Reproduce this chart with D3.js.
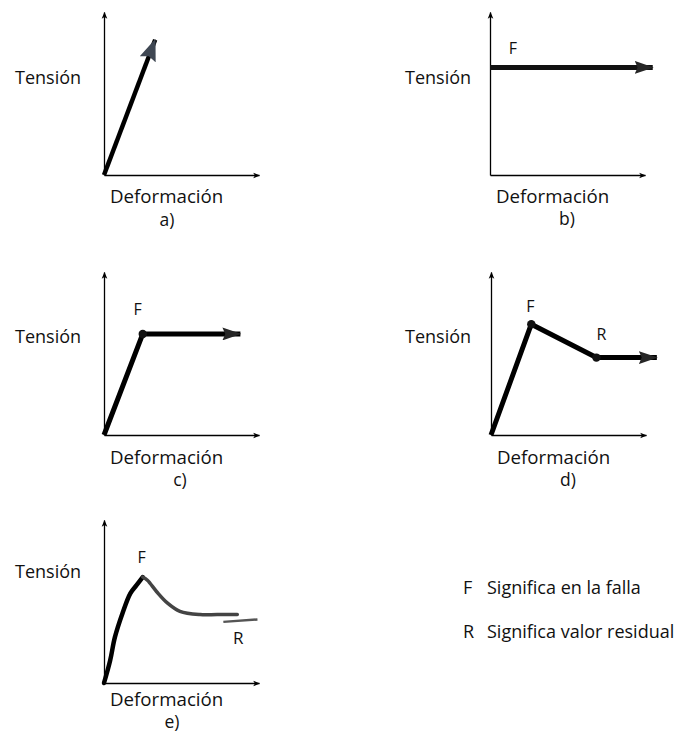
<!DOCTYPE html>
<html>
<head>
<meta charset="utf-8">
<script src="https://cdn.jsdelivr.net/npm/d3@7"></script>
<style>
  html, body { margin: 0; padding: 0; background: #fff; }
  #chart-container { width: 689px; height: 735px; }
</style>
</head>
<body>
<div id="chart-container"></div>
<script>
// Curvas esquemáticas tensión–deformación (unidades relativas 0–100)
const curveA = [[0, 0], [33, 83]];
const curveB = [[0, 66], [105, 66]];
const curveC = [[0, 0], [25, 62], [88, 62]];
const curveD = [[0, 0], [26, 68], [68, 47.5], [107, 47.5]];
const curveE = [[0, 0], [4, 14], [7, 28], [12, 43], [17, 55], [21, 60], [25, 65],
                [28, 63], [34, 56], [41, 49], [49, 44], [62, 42], [73, 42], [86, 42]];
const residualE = [[77, 37.5], [99, 39]];

// Puntos marcados (F = falla, R = residual)
const pointsC = [{ label: "F", x: 25, y: 62 }];
const pointsD = [{ label: "F", x: 26, y: 68 }, { label: "R", x: 68, y: 47.5 }];

const panelLetters = ["a)", "b)", "c)", "d)", "e)"];
const yLabel = "Tensión";
const xLabel = "Deformación";
const legendItems = [
    { key: "F", text: "Significa en la falla" },
    { key: "R", text: "Significa valor residual" }
];

const font = "'Open Sans', 'DejaVu Sans', sans-serif";
const textColor = "#111";
const axisW = 155, axisH = 163;

const svg = d3.select("#chart-container")
    .append("svg")
    .attr("width", 689)
    .attr("height", 735)
    .style("font-family", font);

const defs = svg.append("defs");

// Flecha pequeña de los ejes
defs.append("marker")
    .attr("id", "axisArrow")
    .attr("viewBox", "0 0 10 10")
    .attr("refX", 9).attr("refY", 5)
    .attr("markerWidth", 7).attr("markerHeight", 7)
    .attr("markerUnits", "userSpaceOnUse")
    .attr("orient", "auto")
    .append("path")
    .attr("d", "M0,1 L10,5 L0,9 L2.5,5 Z")
    .attr("fill", "#000");

// Flecha grande de las curvas
function dataArrow(id, color, w, h) {
    defs.append("marker")
        .attr("id", id)
        .attr("viewBox", `0 0 ${w} ${h}`)
        .attr("refX", w - 1).attr("refY", h / 2)
        .attr("markerWidth", w).attr("markerHeight", h)
        .attr("markerUnits", "userSpaceOnUse")
        .attr("orient", "auto")
        .append("path")
        .attr("d", `M0,0 L${w},${h / 2} L0,${h} L${w * 0.15},${h / 2} Z`)
        .attr("fill", color);
}
dataArrow("arrowA", "#3f4753", 22, 17);
dataArrow("arrowB", "#262626", 19, 13);

// Configuración de cada panel (origen de los ejes en px)
const panels = [
    { origin: [104, 175], labelX: 15, tensY: -97, letterDx: 63, xlabDy: 21, letterDy: 45 },
    { origin: [490, 175], labelX: 405, tensY: -97, letterDx: 77, xlabDy: 21, letterDy: 44 },
    { origin: [104, 435], labelX: 15, tensY: -98, letterDx: 76, xlabDy: 22, letterDy: 45 },
    { origin: [491, 435], labelX: 405, tensY: -98, letterDx: 77, xlabDy: 22, letterDy: 45 },
    { origin: [104, 683], labelX: 15, tensY: -111, letterDx: 68, xlabDy: 16, letterDy: 39 }
];

const scales = panels.map((p, i) => {
    const [ox, oy] = p.origin;
    const x = d3.scaleLinear().domain([0, 100]).range([ox, ox + axisW]);
    const y = d3.scaleLinear().domain([0, 100]).range([oy, oy - axisH]);

    // Ejes
    const gx = svg.append("g")
        .attr("transform", `translate(0, ${oy})`)
        .call(d3.axisBottom(x).ticks(0).tickSizeOuter(0));
    const gy = svg.append("g")
        .attr("transform", `translate(${ox}, 0)`)
        .call(d3.axisLeft(y).ticks(0).tickSizeOuter(0));
    [gx, gy].forEach(g => g.select(".domain")
        .attr("stroke", "#000")
        .attr("stroke-width", 1.3)
        .attr("marker-end", "url(#axisArrow)"));

    // Etiquetas
    svg.append("text")
        .attr("x", p.labelX)
        .attr("y", oy + p.tensY)
        .attr("dy", "0.35em")
        .attr("fill", textColor)
        .style("font-size", "18px")
        .text(yLabel);

    svg.append("text")
        .attr("x", ox + 6)
        .attr("y", oy + p.xlabDy)
        .attr("dy", "0.35em")
        .attr("fill", textColor)
        .style("font-size", "18.7px")
        .text(xLabel);

    svg.append("text")
        .attr("x", ox + p.letterDx)
        .attr("y", oy + p.letterDy)
        .attr("dy", "0.35em")
        .attr("text-anchor", "middle")
        .attr("fill", textColor)
        .style("font-size", "17.5px")
        .text(panelLetters[i]);

    return { x, y };
});

function drawLine(i, data, opts) {
    const { x, y } = scales[i];
    const line = d3.line()
        .x(d => x(d[0]))
        .y(d => y(d[1]))
        .curve(opts.curve || d3.curveLinear);
    const path = svg.append("path")
        .datum(data)
        .attr("fill", "none")
        .attr("stroke", opts.color || "#000")
        .attr("stroke-width", opts.width || 5)
        .attr("stroke-linejoin", "round")
        .attr("stroke-linecap", opts.cap || "round")
        .attr("d", line);
    if (opts.arrow) path.attr("marker-end", `url(#${opts.arrow})`);
    return path;
}

function drawPoints(i, pts, labelDy, labelDx) {
    const { x, y } = scales[i];
    svg.selectAll(null)
        .data(pts)
        .enter()
        .append("circle")
        .attr("cx", d => x(d.x))
        .attr("cy", d => y(d.y))
        .attr("r", 4.2)
        .attr("fill", "#111");
    svg.selectAll(null)
        .data(pts)
        .enter()
        .append("text")
        .attr("x", (d, k) => x(d.x) + labelDx[k])
        .attr("y", (d, k) => y(d.y) + labelDy[k])
        .attr("dy", "0.35em")
        .attr("text-anchor", "middle")
        .attr("fill", textColor)
        .style("font-size", "16px")
        .text(d => d.label);
}

// a)
drawLine(0, curveA, { width: 4.5, color: "#000", arrow: "arrowA", cap: "butt" });

// b)
drawLine(1, curveB, { width: 5, color: "#111", arrow: "arrowB", cap: "butt" });
svg.append("text")
    .attr("x", scales[1].x(curveB[0][0]) + 23)
    .attr("y", scales[1].y(curveB[0][1]) - 19)
    .attr("dy", "0.35em")
    .attr("text-anchor", "middle")
    .attr("fill", textColor)
    .style("font-size", "16px")
    .text("F");

// c)
drawLine(2, curveC, { width: 5, color: "#000", arrow: "arrowB", cap: "butt" });
drawPoints(2, pointsC, [-25], [-5]);

// d)
drawLine(3, curveD, { width: 5, color: "#000", arrow: "arrowB", cap: "butt" });
drawPoints(3, pointsD, [-18, -23], [-1, 5]);

// e) curva con pico y caída a valor residual
const peakIdx = d3.maxIndex(curveE, d => d[1]);
drawLine(4, curveE.slice(0, peakIdx + 1), { width: 4.5, color: "#000", curve: d3.curveCatmullRom });
drawLine(4, curveE.slice(peakIdx), { width: 3.5, color: "#444", curve: d3.curveCatmullRom });
drawLine(4, residualE, { width: 2.5, color: "#555", cap: "butt" });
svg.append("text")
    .attr("x", scales[4].x(curveE[peakIdx][0]) - 1)
    .attr("y", scales[4].y(curveE[peakIdx][1]) - 20)
    .attr("dy", "0.35em")
    .attr("text-anchor", "middle")
    .attr("fill", textColor)
    .style("font-size", "16px")
    .text("F");
svg.append("text")
    .attr("x", scales[4].x(residualE[0][0]) + 15)
    .attr("y", scales[4].y(residualE[0][1]) + 16)
    .attr("dy", "0.35em")
    .attr("text-anchor", "middle")
    .attr("fill", textColor)
    .style("font-size", "17px")
    .text("R");

// Leyenda
const legend = svg.append("g").attr("transform", "translate(463, 588)");
legendItems.forEach((item, k) => {
    const row = legend.append("g").attr("transform", `translate(0, ${k * 44})`);
    row.append("text")
        .attr("x", 0)
        .attr("dy", "0.35em")
        .attr("fill", textColor)
        .style("font-size", "18px")
        .text(item.key);
    row.append("text")
        .attr("x", 24)
        .attr("dy", "0.35em")
        .attr("fill", textColor)
        .style("font-size", "18px")
        .text(item.text);
});
</script>
</body>
</html>
